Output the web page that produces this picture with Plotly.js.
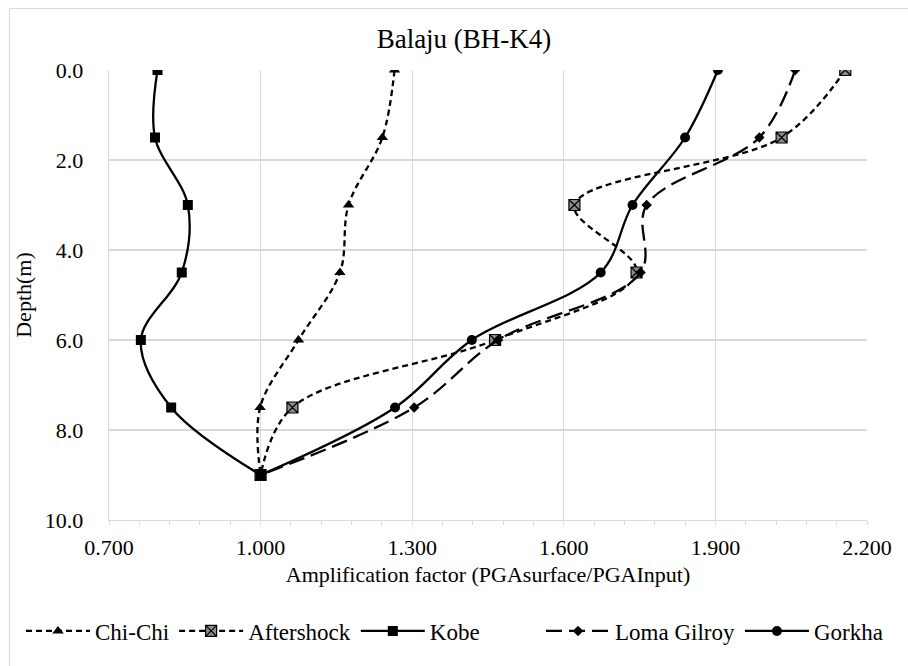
<!DOCTYPE html>
<html>
<head>
<meta charset="utf-8">
<script src="https://cdn.plot.ly/plotly-3.0.1.min.js"></script>
<style>
  html, body { margin: 0; padding: 0; background: #ffffff; }
  #wrap { position: relative; width: 908px; height: 666px; overflow: hidden; }
  #frame { position: absolute; left: 9px; top: 8px; width: 960px; height: 720px; border: 1px solid #d9d9d9; box-sizing: border-box; pointer-events: none; z-index: 5; }
  #chart { position: absolute; left: 0; top: 0; width: 908px; height: 666px; }
</style>
</head>
<body>
<div id="wrap">
  <div id="chart"></div>
  <div id="frame"></div>
</div>
<script>
const depths = [0, 1.5, 3, 4.5, 6, 7.5, 9];
const chiChi = [1.265, 1.241, 1.174, 1.157, 1.075, 0.999, 1.000];
const aftershock = [2.157, 2.031, 1.621, 1.744, 1.464, 1.063, 1.000];
const kobe = [0.796, 0.791, 0.856, 0.844, 0.763, 0.823, 1.000];
const lomaGilroy = [2.058, 1.987, 1.764, 1.752, 1.470, 1.304, 1.000];
const gorkha = [1.905, 1.840, 1.736, 1.673, 1.418, 1.266, 1.000];

const seriesNames = ['Chi-Chi', 'Aftershock', 'Kobe', 'Loma Gilroy', 'Gorkha'];
const xTickVals = [0.7, 1.0, 1.3, 1.6, 1.9, 2.2];
const yTickVals = [0, 2, 4, 6, 8, 10];

const FONT = 'Liberation Serif';

function tr(name, xs, dash, symbol, size, legendId, extra) {
  const t = {
    type: 'scatter', mode: 'lines+markers', name: name,
    x: xs, y: depths, legend: legendId,
    line: { color: '#000000', width: 2.3, dash: dash, shape: 'spline', smoothing: 1 },
    marker: { symbol: symbol, size: size, color: '#000000' }
  };
  if (extra) Object.assign(t.marker, extra);
  return t;
}

const data = [
  tr(seriesNames[0], chiChi, '6px,4px', 'triangle-up', 10, 'legend'),
  tr(seriesNames[1], aftershock, '6px,4px', 'square-x', 11, 'legend', { color: '#8c8c8c', line: { color: '#000000', width: 1.2 } }),
  tr(seriesNames[2], kobe, 'solid', 'square', 10, 'legend'),
  tr(seriesNames[3], lomaGilroy, '16px,7px', 'diamond', 8, 'legend2'),
  tr(seriesNames[4], gorkha, 'solid', 'circle', 10, 'legend2')
];

const legendCommon = {
  orientation: 'h', xanchor: 'left', xref: 'container',
  yref: 'container', y: 1 - 631 / 666, yanchor: 'middle',
  font: { family: FONT, size: 23, color: '#000000' },
  itemwidth: 64, tracegroupgap: 0, traceorder: 'normal',
  bgcolor: 'rgba(0,0,0,0)', borderwidth: 0
};

const layout = {
  width: 908, height: 666,
  margin: { l: 109, r: 41, t: 70, b: 146 },
  paper_bgcolor: 'rgba(0,0,0,0)', plot_bgcolor: '#ffffff',
  font: { family: FONT, size: 22, color: '#000000' },
  title: { text: 'Balaju (BH-K4)', font: { family: FONT, size: 27, color: '#000000' },
           x: 464 / 908, xref: 'container', xanchor: 'center',
           y: 1 - 39 / 666, yref: 'container', yanchor: 'middle' },
  showlegend: true,
  legend: Object.assign({}, legendCommon, { x: 21 / 908 }),
  legend2: Object.assign({}, legendCommon, { x: 541 / 908 }),
  xaxis: {
    range: [0.7, 2.2], tickvals: xTickVals, tickformat: '.3f',
    showgrid: true, gridcolor: '#d9d9d9', gridwidth: 1.3,
    zeroline: false, showline: true, linecolor: '#d9d9d9', linewidth: 1.3,
    ticks: 'outside', ticklen: 4, tickcolor: '#d9d9d9',
    minor: { dtick: 0.06, tick0: 0.7, ticks: 'outside', ticklen: 4, tickcolor: '#d9d9d9', showgrid: false },
    ticklabelstandoff: 3,
    tickfont: { family: FONT, size: 22 },
    title: { text: 'Amplification factor (PGAsurface/PGAInput)', font: { family: FONT, size: 22 }, standoff: 8 },
    fixedrange: true
  },
  yaxis: {
    range: [10, 0], tickvals: yTickVals, tickformat: '.1f',
    showgrid: true, gridcolor: '#d9d9d9', gridwidth: 1.3,
    zeroline: false, showline: true, linecolor: '#d9d9d9', linewidth: 1.3, mirror: false,
    ticks: '', ticklabelstandoff: 20,
    tickfont: { family: FONT, size: 22 },
    title: { text: 'Depth(m)', font: { family: FONT, size: 22 }, standoff: 7 },
    fixedrange: true
  }
};

Plotly.newPlot('chart', data, layout, { displayModeBar: false, staticPlot: true });
</script>
</body>
</html>
